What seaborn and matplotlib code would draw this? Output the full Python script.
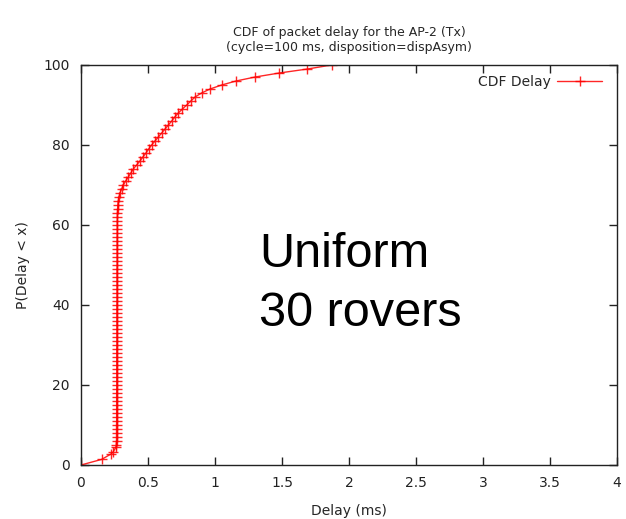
import matplotlib
matplotlib.use("Agg")
import matplotlib.pyplot as plt
import seaborn as sns
import pandas as pd

# ---- data ----
delay_ms = [0.0, 0.154, 0.224, 0.241, 0.262,
            0.264, 0.265, 0.265, 0.265, 0.265, 0.265, 0.266, 0.266, 0.266, 0.266,
            0.266, 0.266, 0.266, 0.266, 0.267, 0.267, 0.267, 0.267, 0.267, 0.267,
            0.267, 0.267, 0.267, 0.267, 0.267, 0.268, 0.268, 0.268, 0.268, 0.268,
            0.268, 0.268, 0.268, 0.268, 0.268, 0.268, 0.269, 0.269, 0.269, 0.269,
            0.269, 0.269, 0.269, 0.269, 0.269, 0.270, 0.270, 0.270, 0.270, 0.270,
            0.270, 0.270, 0.270, 0.271, 0.271, 0.271, 0.271, 0.272, 0.272, 0.273,
            0.275, 0.278, 0.283, 0.291, 0.303, 0.316, 0.333, 0.353, 0.372, 0.390,
            0.415, 0.440, 0.462, 0.485, 0.505, 0.527, 0.552, 0.577, 0.602, 0.627,
            0.652, 0.677, 0.700, 0.726, 0.757, 0.789, 0.820, 0.851, 0.900, 0.963,
            1.050, 1.157, 1.300, 1.480, 1.690, 1.870]
cdf_pct = [0.0, 1.4, 2.75, 3.3, 4.6,
           5, 6, 7, 8, 9, 10, 11, 12, 13, 14,
           15, 16, 17, 18, 19, 20, 21, 22, 23, 24,
           25, 26, 27, 28, 29, 30, 31, 32, 33, 34,
           35, 36, 37, 38, 39, 40, 41, 42, 43, 44,
           45, 46, 47, 48, 49, 50, 51, 52, 53, 54,
           55, 56, 57, 58, 59, 60, 61, 62, 63, 64,
           65, 66, 67, 68, 69, 70, 71, 72, 73, 74,
           75, 76, 77, 78, 79, 80, 81, 82, 83, 84,
           85, 86, 87, 88, 89, 90, 91, 92, 93, 94,
           95, 96, 97, 98, 99, 100]
x_ticks = [0, 0.5, 1, 1.5, 2, 2.5, 3, 3.5, 4]
x_tick_labels = ["0", "0.5", "1", "1.5", "2", "2.5", "3", "3.5", "4"]
y_ticks = [0, 20, 40, 60, 80, 100]
y_tick_labels = ["0", "20", "40", "60", "80", "100"]
series_name = "CDF Delay"
annotation_lines = ["Uniform", "30 rovers"]

df = pd.DataFrame({"Delay (ms)": delay_ms, "P": cdf_pct})

sns.set_style("ticks")
plt.rcParams["font.family"] = ["DejaVu Sans"]

fig = plt.figure(figsize=(6.26, 5.19), dpi=100)
ax = fig.add_axes([81 / 626, 1 - 465 / 519, (617 - 81) / 626, (465 - 65) / 519])

sns.lineplot(data=df, x="Delay (ms)", y="P", ax=ax, color="#ff0000",
             marker="+", markersize=7, markeredgewidth=1.0,
             markeredgecolor="#ff0000", markerfacecolor="#ff0000",
             linewidth=1.0, label=series_name, estimator=None, sort=False,
             alpha=0.85)

ax.set_xlim(0, 4)
ax.set_ylim(0, 100)
ax.set_xticks(x_ticks)
ax.set_xticklabels(x_tick_labels)
ax.set_yticks(y_ticks)
ax.set_yticklabels(y_tick_labels)
ax.tick_params(direction="in", top=True, right=True, length=6, width=1,
               labelsize=10, colors="#222222", pad=8)
for s in ax.spines.values():
    s.set_linewidth(1.0)
    s.set_color("#222222")

ax.set_xlabel("Delay (ms)", fontsize=10, labelpad=10)
ax.set_ylabel("P(Delay < x)", fontsize=10, labelpad=10)
ax.set_title("CDF of packet delay for the AP-2 (Tx)\n(cycle=100 ms, disposition=dispAsym)",
             fontsize=9, pad=10)

leg = ax.legend(loc="upper right", bbox_to_anchor=(0.99, 1.0), frameon=False,
                markerfirst=False, handlelength=3.2, fontsize=10,
                borderaxespad=0.3, handletextpad=0.5)

ax.text(1.328, 49.6, annotation_lines[0], fontsize=35, family=["Liberation Sans"],
        ha="left", va="baseline", color="black")
ax.text(1.328, 34.75, annotation_lines[1], fontsize=35, family=["Liberation Sans"],
        ha="left", va="baseline", color="black")

fig.savefig("out.png", dpi=100)
